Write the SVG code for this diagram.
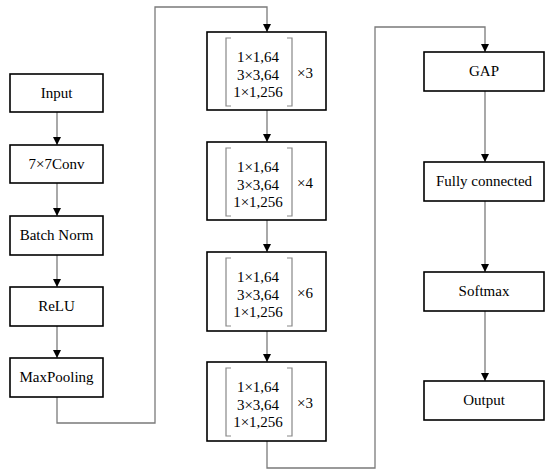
<svg xmlns="http://www.w3.org/2000/svg" width="550" height="475" viewBox="0 0 550 475">
<style>
.box{fill:#fff;stroke:#000;stroke-width:1.6}
.t{font-family:"Liberation Serif",serif;font-size:15px;fill:#000;text-anchor:middle}
.c{fill:none;stroke:#7a7a7a;stroke-width:1.3}
.br{fill:none;stroke:#888;stroke-width:1.2}
</style>
<defs>
<marker id="ah" viewBox="0 0 10 10" refX="10" refY="5" markerWidth="8" markerHeight="8" markerUnits="userSpaceOnUse" orient="auto">
<path d="M0,0 L10,5 L0,10 Z" fill="#000"/>
</marker>
</defs>
<rect width="550" height="475" fill="#fff"/>
<g id="connectors">
<line class="c" x1="57" y1="112" x2="57" y2="145" marker-end="url(#ah)"/>
<line class="c" x1="57" y1="183" x2="57" y2="216" marker-end="url(#ah)"/>
<line class="c" x1="57" y1="255" x2="57" y2="287" marker-end="url(#ah)"/>
<line class="c" x1="57" y1="326" x2="57" y2="358" marker-end="url(#ah)"/>
<polyline class="c" points="57,397 57,423 155,423 155,7 267,7 267,32" marker-end="url(#ah)"/>
<line class="c" x1="267" y1="110" x2="267" y2="142" marker-end="url(#ah)"/>
<line class="c" x1="267" y1="220" x2="267" y2="252" marker-end="url(#ah)"/>
<line class="c" x1="267" y1="331" x2="267" y2="362" marker-end="url(#ah)"/>
<polyline class="c" points="267,441 267,468 375,468 375,27 485,27 485,52" marker-end="url(#ah)"/>
<line class="c" x1="485" y1="91" x2="485" y2="162" marker-end="url(#ah)"/>
<line class="c" x1="485" y1="201" x2="485" y2="272" marker-end="url(#ah)"/>
<line class="c" x1="485" y1="311" x2="485" y2="381" marker-end="url(#ah)"/>
</g>
<g id="input"><rect class="box" x="10" y="74" width="93" height="38"/><text class="t" x="56.5" y="98">Input</text></g>
<g id="conv"><rect class="box" x="10" y="145" width="93" height="38"/><text class="t" x="56.5" y="169">7×7Conv</text></g>
<g id="bn"><rect class="box" x="10" y="216" width="93" height="39"/><text class="t" x="56.5" y="240">Batch Norm</text></g>
<g id="relu"><rect class="box" x="10" y="287" width="93" height="39"/><text class="t" x="56.5" y="311">ReLU</text></g>
<g id="maxpool"><rect class="box" x="10" y="358" width="93" height="39"/><text class="t" x="56.5" y="382">MaxPooling</text></g>
<g id="block1">
<rect class="box" x="207" y="32" width="119" height="78"/>
<path class="br" d="M231,38 H226 V106 H231 M287,38 H292 V106 H287"/>
<text class="t" x="258" y="62">1×1,64</text><text class="t" x="258" y="80">3×3,64</text><text class="t" x="258" y="97">1×1,256</text>
<text class="t" x="305" y="78">×3</text>
</g>
<g id="block2">
<rect class="box" x="207" y="142" width="119" height="78"/>
<path class="br" d="M231,148 H226 V216 H231 M287,148 H292 V216 H287"/>
<text class="t" x="258" y="172">1×1,64</text><text class="t" x="258" y="190">3×3,64</text><text class="t" x="258" y="207">1×1,256</text>
<text class="t" x="305" y="188">×4</text>
</g>
<g id="block3">
<rect class="box" x="207" y="252" width="119" height="79"/>
<path class="br" d="M231,258 H226 V326 H231 M287,258 H292 V326 H287"/>
<text class="t" x="258" y="282">1×1,64</text><text class="t" x="258" y="300">3×3,64</text><text class="t" x="258" y="317">1×1,256</text>
<text class="t" x="305" y="298">×6</text>
</g>
<g id="block4">
<rect class="box" x="207" y="362" width="119" height="79"/>
<path class="br" d="M231,368 H226 V436 H231 M287,368 H292 V436 H287"/>
<text class="t" x="258" y="392">1×1,64</text><text class="t" x="258" y="410">3×3,64</text><text class="t" x="258" y="427">1×1,256</text>
<text class="t" x="305" y="408">×3</text>
</g>
<g id="gap"><rect class="box" x="424" y="52" width="120" height="39"/><text class="t" x="484" y="76">GAP</text></g>
<g id="fc"><rect class="box" x="424" y="162" width="120" height="39"/><text class="t" x="484" y="186">Fully connected</text></g>
<g id="softmax"><rect class="box" x="424" y="272" width="120" height="39"/><text class="t" x="484" y="296">Softmax</text></g>
<g id="output"><rect class="box" x="424" y="381" width="120" height="39"/><text class="t" x="484" y="405">Output</text></g>
</svg>
